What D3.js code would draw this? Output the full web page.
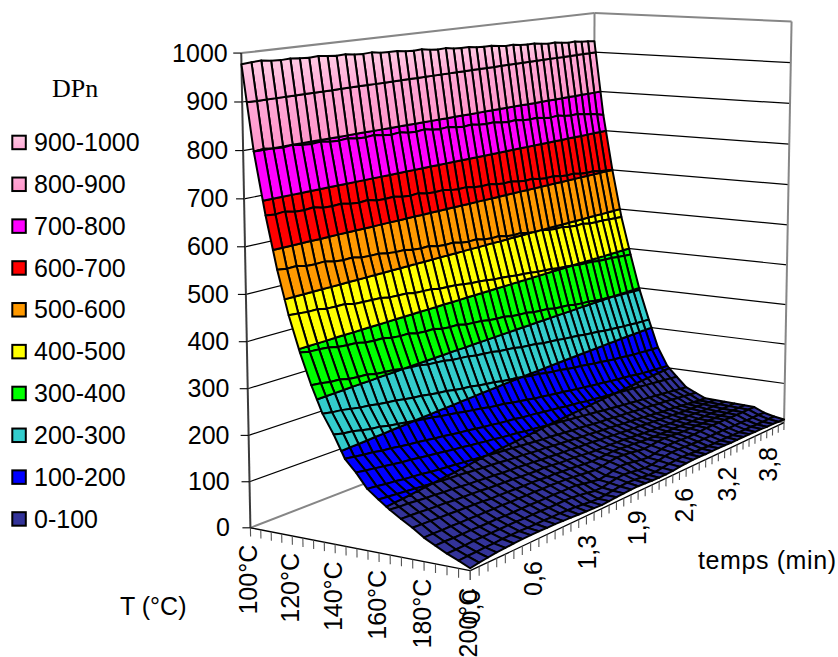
<!DOCTYPE html>
<html><head><meta charset="utf-8">
<script src="https://cdn.jsdelivr.net/npm/d3@7"></script>
<style>html,body{margin:0;padding:0;background:#fff}svg{display:block}text{font-family:"Liberation Sans",Arial,sans-serif;fill:#000}</style>
</head><body><svg id="c" width="838" height="657"></svg>
<script>
const zTicks=[0,100,200,300,400,500,600,700,800,900,1000];
const tempLabels=["100°C","120°C","140°C","160°C","180°C","200°C"];
const timeLabels=["0,0","0,6","1,3","1,9","2,6","3,2","3,8"];
const legendLabels=["900-1000","800-900","700-800","600-700","500-600","400-500","300-400","200-300","100-200","0-100"];
const bandColors=["url(#g9)","url(#g8)","#ff00ff","#ff0000","#ff9900","#ffff00","#00ff00","#33cccc","#0000ff","#333399"];
const temps=d3.range(100,201,5);
const nCols=45;
const dp=[
[977,979,980,977,976,977,975,974,975,973,971,972,969,968,969,966,965,965,962,961,962,959,957,958,955,954,954,951,950,950,947,945,946,943,942,942,939,937,938,935,933,934,931,930,928],
[800,802,799,798,800,796,795,797,793,792,794,790,789,791,787,785,787,783,782,784,780,778,780,776,774,776,772,771,772,768,766,768,764,763,764,760,758,760,756,754,755,751,749,745,740],
[670,668,670,665,664,666,661,660,661,657,655,657,652,651,652,648,646,648,643,642,643,639,637,638,634,632,633,629,627,628,624,622,623,619,617,618,614,612,613,609,607,608,604,602,600],
[560,557,558,553,552,553,548,546,547,542,541,541,537,535,535,531,529,530,525,523,524,519,517,518,513,511,512,507,505,506,501,499,500,495,494,494,490,488,489,485,484,484,482,481,480],
[468,466,464,464,460,459,459,454,453,452,451,447,446,445,441,440,439,435,434,433,430,427,426,424,421,420,418,415,414,412,409,408,406,403,402,400,397,396,395,392,391,390,388,386,385],
[393,389,388,386,381,379,378,373,371,371,366,364,364,359,357,357,352,350,350,345,343,342,338,336,335,331,329,328,324,322,321,317,315,314,310,308,307,304,302,301,299,298,297,296,295],
[328,326,322,321,316,314,313,308,306,304,300,298,296,292,290,288,284,282,280,276,274,272,268,266,264,260,258,256,252,250,248,245,243,241,238,236,234,231,229,227,225,224,222,221,220],
[272,268,266,262,258,256,252,249,247,243,240,238,234,231,229,225,222,220,216,213,211,207,204,202,198,195,193,189,186,184,180,177,175,172,169,167,164,161,160,157,155,154,152,151,150],
[232,227,225,220,216,214,209,206,203,199,196,193,189,186,183,179,176,173,169,166,164,160,157,154,150,148,145,142,140,137,134,132,129,127,125,122,120,118,116,113,111,109,108,106,105],
[185,182,179,177,173,171,168,165,163,160,157,155,152,149,147,144,141,139,136,134,132,129,127,125,122,120,118,115,113,111,108,106,104,102,100,98,96,94,92,90,88,86,84,82,80],
[160,157,154,151,148,145,143,140,137,135,132,129,127,124,122,119,117,114,112,110,107,105,103,100,98,96,93,91,89,87,85,82,80,78,76,74,72,70,68,66,64,62,60,58,56],
[130,128,125,123,120,118,116,113,111,109,107,105,103,101,99,97,95,93,91,89,87,85,84,82,80,78,77,75,73,71,70,68,66,65,63,61,60,58,56,55,53,51,49,47,45],
[112,110,108,106,104,102,100,98,96,95,93,91,89,88,86,84,82,81,79,77,76,74,72,71,69,67,66,64,62,61,59,57,56,54,52,50,48,46,45,43,41,39,37,35,34],
[95,93,92,90,88,87,85,84,82,80,79,77,76,74,73,72,70,69,67,66,64,63,62,60,59,58,56,55,53,52,50,49,48,46,45,43,42,41,39,38,37,36,35,34,33],
[80,79,78,76,75,74,72,71,70,69,67,66,65,64,62,61,60,60,58,56,55,54,52,50,49,48,48,47,46,44,43,41,40,39,38,37,37,36,36,35,34,33,33,32,32],
[66,65,64,63,62,61,60,59,58,56,56,55,54,53,53,52,50,50,48,47,45,43,42,42,43,44,43,41,40,38,37,36,36,35,35,34,33,33,32,32,32,31,31,31,31],
[50,50,49,49,48,48,47,47,46,46,45,45,44,44,43,43,42,41,39,37,35,33,35,38,40,39,37,34,32,33,35,36,35,33,32,32,32,31,31,31,30,30,30,30,30],
[38,38,37,37,37,36,36,36,35,35,35,35,34,34,34,33,33,32,28,25,22,24,28,31,30,27,24,22,24,28,30,30,29,28,28,29,30,30,30,30,29,29,29,29,29],
[26,26,26,27,27,27,27,27,27,26,26,26,25,25,25,24,22,19,16,16,19,22,23,21,18,16,16,19,22,24,24,23,22,21,21,21,21,21,20,20,20,19,19,19,18],
[16,17,17,18,18,19,19,19,18,18,18,17,17,16,15,13,11,10,11,13,15,16,15,13,11,11,13,15,16,17,16,15,15,14,14,14,14,13,13,13,13,12,12,12,12],
[5,8,10,12,13,14,15,15,15,14,14,13,12,11,10,9,8,9,10,11,12,12,11,10,9,9,10,12,13,14,14,13,13,13,13,12,12,12,12,11,11,10,10,9,8]
];

const svg=d3.select("#c");
const defs=svg.append("defs");
function grad(id,a,b){const g=defs.append("linearGradient").attr("id",id).attr("x1",0).attr("y1",0).attr("x2",0).attr("y2",1);
 g.append("stop").attr("offset",0).attr("stop-color",a);g.append("stop").attr("offset",1).attr("stop-color",b);}
grad("g9","#ffcbe4","#ffa8d6");grad("g8","#ffa8d6","#ff96ca");

// camera calibration: perspective map of the unit cube, fitted to the plot box
const calib=[
[0,0,0,250,527.3],[0,0,.2,248.5,435],[0,0,.5,245.8,295],[0,0,.8,243,150.7],[0,0,1,241.5,53],
[1,0,0,470.7,571],
[1,1,0,784,423],[1,1,.1,784.8,383],[1,1,.2,785.3,344],[1,1,.6,788.3,185],[1,1,.8,790,103],[1,1,.9,790.7,63],[1,1,1,791.7,21],
[0,1,1,594,13],[0,1,.8,594.6,91],[0,1,.6,594,169],[0,1,.4,593.5,244],[0,1,.2,593,321]
];
function fit(pts){
  const n=11,M=d3.range(n).map(()=>new Array(n+1).fill(0));
  const add=(r,t)=>{for(let i=0;i<n;i++){for(let j=0;j<n;j++)M[i][j]+=r[i]*r[j];M[i][n]+=r[i]*t;}};
  pts.forEach(([u,v,w,x,y])=>{
    add([u,v,w,1,0,0,0,0,-x*u,-x*v,-x*w],x);
    add([0,0,0,0,u,v,w,1,-y*u,-y*v,-y*w],y);
  });
  for(let i=0;i<n;i++){
    let p=i;for(let r=i+1;r<n;r++)if(Math.abs(M[r][i])>Math.abs(M[p][i]))p=r;
    [M[i],M[p]]=[M[p],M[i]];
    for(let r=0;r<n;r++){if(r===i)continue;const f=M[r][i]/M[i][i];for(let c=i;c<=n;c++)M[r][c]-=f*M[i][c];}
  }
  return M.map((row,i)=>row[n]/row[i]);
}
const m=fit(calib);
function proj(u,v,w){const d=m[8]*u+m[9]*v+m[10]*w+1;
  return [(m[0]*u+m[1]*v+m[2]*w+m[3])/d,(m[4]*u+m[5]*v+m[6]*w+m[7])/d];}
const uS=d3.scaleLinear().domain([100,200]).range([0,1]);
const vS=d3.scaleLinear().domain([0,nCols-1]).range([0,1]);
const wS=d3.scaleLinear().domain([0,1000]).range([0,1]);
const P=(T,c,z)=>proj(uS(T),vS(c),wS(z));
const line=d3.line();
const closed=d3.line().curve(d3.curveLinearClosed);
function seg(p,q,col,w){svg.append("path").attr("d",line([p,q])).attr("stroke",col).attr("stroke-width",w).attr("fill","none");}

// walls
zTicks.forEach(z=>{
  const edge=(z===0||z===1000);
  const col=edge?"#868686":"#000",w=edge?2:1.2;
  seg(P(100,0,z),P(100,nCols-1,z),col,w);
  seg(P(100,nCols-1,z),P(200,nCols-1,z),col,w);
});
seg(P(100,nCols-1,0),P(100,nCols-1,1000),"#868686",2);
seg(P(200,nCols-1,0),P(200,nCols-1,1000),"#868686",2);
seg(P(100,0,0),P(100,0,1000),"#3c3c3c",2);
// axes
seg(P(100,0,0),P(200,0,0),"#000",1.3);
seg(P(200,0,0),P(200,nCols-1,0),"#000",1.3);
temps.forEach(T=>seg(P(T,0,0),P(T,0,-19),"#555",1.1));
d3.range(nCols).forEach(c=>seg(P(200,c,0),P(200,c,-19),"#555",1.1));
const fs=25;
zTicks.forEach(z=>{
  const p=P(100,0,z);
  seg([p[0]-8,p[1]],p,"#000",1.1);
  svg.append("text").attr("x",p[0]-13.5-(1000-z)*0.007).attr("y",p[1]+8.5).attr("text-anchor","end").attr("font-size",fs).text(String(z));
});
tempLabels.forEach((s,i)=>{
  const T=100+i*20,p=P(T,0,0);
  svg.append("text").attr("transform",`translate(${p[0]+7},${p[1]+17}) rotate(-90)`).attr("text-anchor","end").attr("font-size",fs).text(s);
});
timeLabels.forEach((s,i)=>{
  const p=P(200,i*7,0);
  svg.append("text").attr("transform",`translate(${p[0]+(i?12.5-i*1.4:10)},${p[1]+19}) rotate(-90)`).attr("text-anchor","end").attr("font-size",fs).text(s);
});

// surface, drawn back to front, cells clipped to 100-wide bands
function clip(poly,test,val){
  const out=[];
  for(let n=0;n<poly.length;n++){
    const a=poly[n],b=poly[(n+1)%poly.length];
    const ia=test(a[2]),ib=test(b[2]);
    if(ia)out.push(a);
    if(ia!==ib){const f=(val-a[2])/(b[2]-a[2]);out.push([a[0]+f*(b[0]-a[0]),a[1]+f*(b[1]-a[1]),val]);}
  }
  return out;
}
const gS=svg.append("g").attr("stroke","#000").attr("stroke-width",2).attr("stroke-linejoin","round");
const zAt=(r,c)=>{const row=dp[r];return row[Math.min(c,row.length-1)];};
for(let r=0;r<temps.length-1;r++){
  for(let c=nCols-2;c>=0;c--){
    const quad=[[r,c],[r,c+1],[r+1,c+1],[r+1,c]].map(q=>[temps[q[0]],q[1],zAt(q[0],q[1])]);
    const zs=quad.map(q=>q[2]),lo=Math.floor(d3.min(zs)/100),hi=Math.floor(d3.max(zs)/100);
    for(let b=lo;b<=hi;b++){
      let poly=clip(quad,z=>z>=b*100,b*100);
      poly=clip(poly,z=>z<=(b+1)*100,(b+1)*100);
      if(poly.length<3)continue;
      gS.append("path").attr("d",closed(poly.map(q=>P(q[0],q[1],q[2])))).attr("fill",bandColors[9-Math.min(b,9)]);
    }
  }
}

// legend
const yL=d3.scalePoint().domain(legendLabels).range([142.5,519]);
legendLabels.forEach((s,i)=>{
  const y=yL(s);
  svg.append("rect").attr("x",12.3).attr("y",y-6.8).attr("width",13.5).attr("height",13.5).attr("fill",bandColors[i]).attr("stroke","#000").attr("stroke-width",2);
  svg.append("text").attr("x",34).attr("y",y+8.5).attr("font-size",fs).text(s);
});
svg.append("text").attr("x",52).attr("y",97).attr("font-size",26).style("font-family","'Liberation Serif',serif").text("DPn");
svg.append("text").attr("x",120).attr("y",615).attr("font-size",fs).text("T (°C)");
svg.append("text").attr("x",698).attr("y",569).attr("font-size",fs).attr("textLength",138).text("temps (min)");
</script></body></html>
